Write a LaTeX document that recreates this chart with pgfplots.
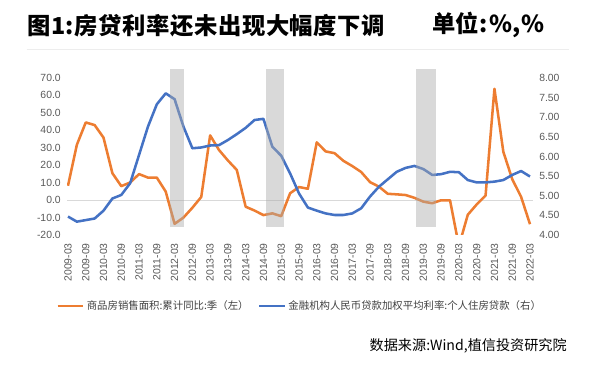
\documentclass[border=0pt]{standalone}
\usepackage{pgfplots}
\usepackage{pgfplotstable}
\pgfplotsset{compat=1.18}
\usepackage{fontspec}
\setmainfont{Liberation Sans}
\newfontfamily\cjk{Noto Sans CJK SC}
\definecolor{orng}{HTML}{ED7D31}
\definecolor{blu}{HTML}{4472C4}
\definecolor{ticktxt}{HTML}{595959}
\definecolor{legtxt}{HTML}{404040}
\definecolor{bandc}{HTML}{AAAAAA}
\definecolor{zeroc}{HTML}{D9D9D9}

\pgfplotstableread{
i sales rate
0 8.2 4.47
1 31.7 4.34
2 44.5 4.38
3 43.0 4.42
4 35.8 4.62
5 15.4 4.93
6 8.0 5.02
7 10.1 5.32
8 14.9 6.04
9 12.9 6.76
10 12.9 7.33
11 4.9 7.61
12 -13.6 7.46
13 -10.0 6.76
14 -4.4 6.21
15 1.8 6.23
16 37.1 6.28
17 28.7 6.29
18 22.7 6.42
19 17.3 6.57
20 -3.8 6.73
21 -6.0 6.93
22 -8.6 6.96
23 -7.6 6.25
24 -9.2 6.02
25 3.9 5.57
26 7.5 5.06
27 6.5 4.70
28 33.1 4.62
29 27.9 4.55
30 26.9 4.51
31 22.5 4.51
32 19.5 4.55
33 16.1 4.68
34 10.3 4.98
35 7.7 5.23
36 3.6 5.42
37 3.3 5.61
38 2.9 5.71
39 1.3 5.76
40 -0.9 5.68
41 -1.8 5.53
42 -0.1 5.55
43 -0.1 5.61
44 -26.3 5.60
45 -8.4 5.40
46 -2.5 5.34
47 2.6 5.34
48 63.8 5.36
49 27.7 5.40
50 12.0 5.53
51 1.9 5.63
52 -13.8 5.49
}\data

\pgfplotstableread{
x y
11.48 4.196
13.07 4.196
13.07 8.229
11.48 8.229
}\bandA
\pgfplotstableread{
x y
22.25 4.196
24.30 4.196
24.30 8.229
22.25 8.229
}\bandB
\pgfplotstableread{
x y
39.15 4.196
41.38 4.196
41.38 8.229
39.15 8.229
}\bandC

\pgfplotsset{
  common/.style={
    scale only axis, width=349.5pt, height=125.25pt,
    at={(50.25pt,99.75pt)}, anchor=south west,
    xmin=-0.11, xmax=52.34,
    axis line style={draw=none},
    major tick length=0pt,
    tick label style={font=\fontsize{7.8}{9}\selectfont, text=ticktxt},
    /pgf/number format/assume math mode=true,
  }
}

\begin{document}
\begin{tikzpicture}
\useasboundingbox (0,0) rectangle (450pt,276pt);
\node[anchor=west, inner sep=0pt] at (20.25pt,257pt) {\cjk\bfseries\fontsize{17.5}{20}\selectfont\addfontfeature{LetterSpace=2.5}图1:房贷利率还未出现大幅度下调};
\node[anchor=west, inner sep=0pt] at (324pt,257pt) {\cjk\bfseries\fontsize{17.5}{20}\selectfont 单位\kern0.8pt:\kern0.8pt\%\kern0.5pt,\kern0.5pt\%};
\draw[black!7, line width=0.6pt] (20pt,239.25pt) -- (427pt,239.25pt);

\begin{axis}[common,
  ymin=-20, ymax=75.7,
  ytick={-20,-10,...,70},
  yticklabel={\pgfmathprintnumber[fixed,fixed zerofill,precision=1]{\tick}},
  yticklabel style={anchor=east, inner sep=0pt},
  yticklabel shift=4.5pt,
  xtick={0,2,...,52},
  xticklabels={2009-03,2009-09,2010-03,2010-09,2011-03,2011-09,2012-03,2012-09,2013-03,2013-09,2014-03,2014-09,2015-03,2015-09,2016-03,2016-09,2017-03,2017-09,2018-03,2018-09,2019-03,2019-09,2020-03,2020-09,2021-03,2021-09,2022-03},
  xticklabel style={rotate=90, anchor=east, inner sep=0pt},
  xticklabel shift=6pt,
]
\addplot[color=zeroc, line width=0.6pt, forget plot] coordinates {(-0.11,0) (52.34,0)};
\addplot[color=orng, line width=1.9pt, line join=round] table[x=i, y=sales] {\data};
\end{axis}

\begin{axis}[common,
  ymin=4, ymax=8.255,
  axis y line*=right,
  xtick=\empty,
  ytick={4,4.5,...,8},
  yticklabel={\pgfmathprintnumber[fixed,fixed zerofill,precision=2]{\tick}},
  yticklabel style={anchor=west, inner sep=0pt},
  yticklabel shift=4.5pt,
  legend style={at={(-0.0236,-0.425)}, anchor=west, draw=none, fill=none,
    inner sep=0pt, font=\cjk\fontsize{7.8}{9}\selectfont, text=legtxt,
    nodes={inner sep=2pt}},
  legend columns=2,
  legend cell align=left,
  /tikz/every even column/.append style={column sep=5pt},
  legend image code/.code={\draw[#1] (0pt,0pt) -- (19pt,0pt);},
]
\addlegendimage{color=orng, line width=1.9pt}
\addlegendentry{商品房销售面积:累计同比:季（左）}
\addplot[color=blu, line width=1.9pt, line join=round] table[x=i, y=rate] {\data};
\addlegendentry{金融机构人民币贷款加权平均利率:个人住房贷款（右）}
\addplot[fill=bandc, fill opacity=0.45, draw=none, forget plot] table[x=x,y=y] {\bandA} -- cycle;
\addplot[fill=bandc, fill opacity=0.45, draw=none, forget plot] table[x=x,y=y] {\bandB} -- cycle;
\addplot[fill=bandc, fill opacity=0.45, draw=none, forget plot] table[x=x,y=y] {\bandC} -- cycle;
\end{axis}

\node[anchor=east, inner sep=0pt] at (425.25pt,16.5pt) {\cjk\fontsize{10.6}{12}\selectfont 数据来源:Wind,植信投资研究院};
\end{tikzpicture}
\end{document}
